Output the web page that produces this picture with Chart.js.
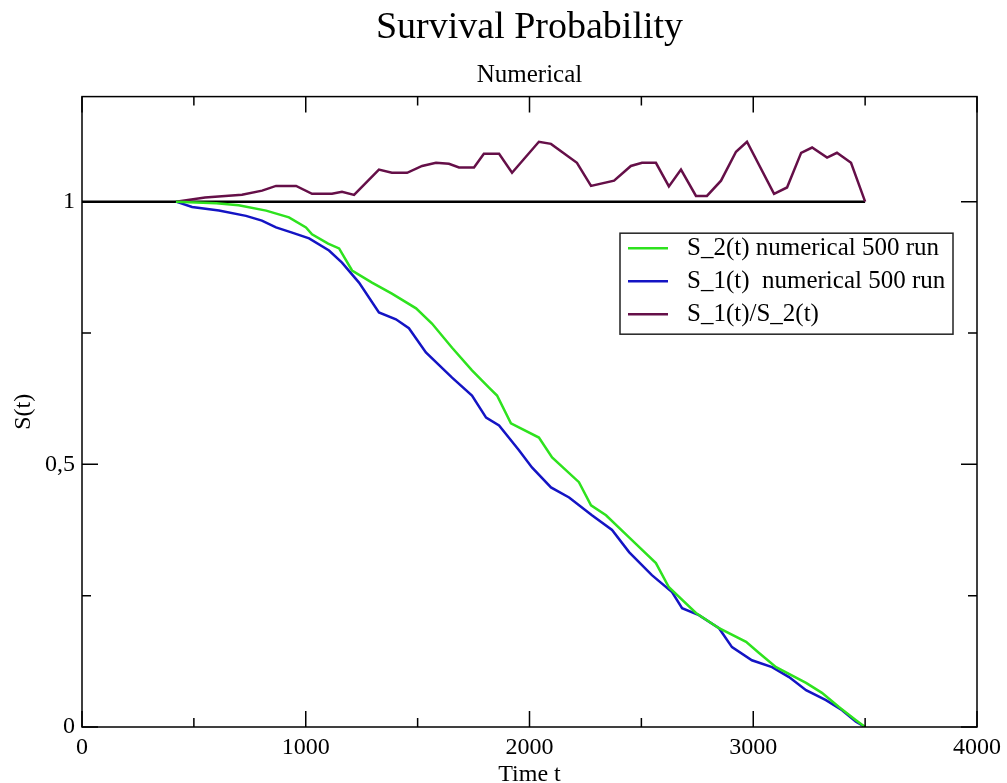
<!DOCTYPE html>
<html>
<head>
<meta charset="utf-8">
<script src="https://cdn.jsdelivr.net/npm/chart.js@4/dist/chart.umd.min.js"></script>
<style>
    html, body { margin: 0; padding: 0; background: #fff; }
    #wrap { width: 1007px; height: 783px; position: relative; }
</style>
</head>
<body>
<div id="wrap"><canvas id="chart"></canvas></div>
<script>
// values
const tS2 = [420, 600, 700, 823, 925, 1001, 1028, 1100, 1149, 1207, 1296, 1385, 1493, 1564, 1654, 1743, 1819, 1855, 1917, 2042, 2101, 2221, 2275, 2342, 2445, 2565, 2623, 2744, 2847, 2968, 3026, 3102, 3236, 3307, 3383, 3459, 3500];
const s2 = [1.0, 0.997, 0.993, 0.983, 0.97, 0.951, 0.938, 0.92, 0.911, 0.869, 0.846, 0.825, 0.797, 0.768, 0.722, 0.679, 0.646, 0.631, 0.578, 0.551, 0.513, 0.466, 0.422, 0.403, 0.361, 0.312, 0.266, 0.217, 0.188, 0.162, 0.141, 0.114, 0.084, 0.065, 0.038, 0.013, 0.0];

const tS1 = [420, 492, 612, 733, 804, 867, 939, 1015, 1104, 1162, 1238, 1327, 1403, 1461, 1537, 1654, 1743, 1806, 1864, 1953, 2011, 2096, 2177, 2279, 2369, 2445, 2547, 2637, 2682, 2757, 2847, 2905, 2994, 3084, 3160, 3236, 3325, 3397, 3459, 3500];
const s1 = [1.0, 0.99, 0.983, 0.973, 0.964, 0.951, 0.941, 0.93, 0.907, 0.884, 0.846, 0.789, 0.776, 0.759, 0.713, 0.665, 0.631, 0.589, 0.574, 0.527, 0.494, 0.456, 0.437, 0.403, 0.375, 0.333, 0.289, 0.257, 0.226, 0.213, 0.188, 0.152, 0.127, 0.114, 0.095, 0.070, 0.051, 0.032, 0.01, 0.0];

const tRatio = [420, 550, 715, 805, 867, 957, 1028, 1117, 1162, 1216, 1327, 1385, 1453, 1520, 1582, 1640, 1685, 1752, 1796, 1864, 1922, 2042, 2096, 2212, 2275, 2378, 2453, 2503, 2565, 2623, 2677, 2744, 2793, 2856, 2923, 2972, 3093, 3151, 3214, 3263, 3330, 3374, 3437, 3500];
const ratio = [1.0, 1.008, 1.013, 1.021, 1.03, 1.03, 1.015, 1.015, 1.019, 1.013, 1.061, 1.055, 1.055, 1.068, 1.074, 1.072, 1.065, 1.065, 1.091, 1.091, 1.055, 1.114, 1.11, 1.074, 1.03, 1.04, 1.068, 1.074, 1.074, 1.029, 1.061, 1.011, 1.011, 1.04, 1.095, 1.114, 1.015, 1.027, 1.093, 1.103, 1.084, 1.093, 1.074, 1.0];

const tRef = [0, 3500];
const ref = [1, 1];

const yMajor = [0, 0.5, 1];
const yMinor = [0.25, 0.75];
const xMajor = [0, 1000, 2000, 3000, 4000];
const xMinor = [500, 1500, 2500, 3500];

const serif = "'Liberation Serif', 'DejaVu Serif', serif";

function pts(xs, ys) {
    return xs.map((x, i) => ({ x: x, y: ys[i] }));
}

// center title + subtitle over the plot area instead of the canvas
const centerTitles = {
    id: 'centerTitles',
    afterLayout(chart) {
        const mid = (chart.chartArea.left + chart.chartArea.right) / 2;
        chart.boxes.forEach(b => {
            if (b.options && typeof b.options.text === 'string') {
                const dx = mid - (b.left + b.right) / 2;
                b.left += dx;
                b.right += dx;
            }
        });
    }
};

// frame, inward ticks and boxed legend
const framePlugin = {
    id: 'frame',
    afterDatasetsDraw(chart) {
        const { ctx, chartArea: a, scales } = chart;
        const xs = scales.x, ys = scales.y;
        ctx.save();
        ctx.strokeStyle = '#000';
        ctx.lineWidth = 1.5;
        ctx.strokeRect(a.left, a.top, a.right - a.left, a.bottom - a.top);

        ctx.beginPath();
        const tick = (v, len, isX) => {
            if (isX) {
                const p = xs.getPixelForValue(v);
                ctx.moveTo(p, a.bottom); ctx.lineTo(p, a.bottom - len);
                ctx.moveTo(p, a.top); ctx.lineTo(p, a.top + len);
            } else {
                const p = ys.getPixelForValue(v);
                ctx.moveTo(a.left, p); ctx.lineTo(a.left + len, p);
                ctx.moveTo(a.right, p); ctx.lineTo(a.right - len, p);
            }
        };
        xMajor.forEach(v => tick(v, 16, true));
        xMinor.forEach(v => tick(v, 9, true));
        yMajor.forEach(v => tick(v, 16, false));
        yMinor.forEach(v => tick(v, 9, false));
        ctx.stroke();

        // legend box
        const items = chart.data.datasets.filter(d => d.label);
        const bx = a.right - 357, by = ys.getPixelForValue(0.94), bw = 333, bh = 101;
        ctx.fillStyle = '#fff';
        ctx.fillRect(bx, by, bw, bh);
        ctx.lineWidth = 1.5;
        ctx.strokeStyle = '#222';
        ctx.strokeRect(bx, by, bw, bh);
        ctx.font = '25px ' + serif;
        ctx.textBaseline = 'middle';
        items.forEach((d, i) => {
            const y = by + 15 + i * 33;
            ctx.strokeStyle = d.borderColor;
            ctx.lineWidth = 2.5;
            ctx.beginPath();
            ctx.moveTo(bx + 8, y); ctx.lineTo(bx + 48, y);
            ctx.stroke();
            ctx.fillStyle = '#000';
            ctx.fillText(d.label, bx + 67, y);
        });
        ctx.restore();
    }
};

const ctx = document.getElementById('chart').getContext('2d');
new Chart(ctx, {
    type: 'line',
    data: {
        datasets: [
            { label: 'S_2(t) numerical 500 run', data: pts(tS2, s2), borderColor: '#2ee21e', borderWidth: 2.5 },
            { label: 'S_1(t)  numerical 500 run', data: pts(tS1, s1), borderColor: '#1414c4', borderWidth: 2.5 },
            { label: 'S_1(t)/S_2(t)', data: pts(tRatio, ratio), borderColor: '#650f48', borderWidth: 2.5 },
            { label: '', data: pts(tRef, ref), borderColor: '#000', borderWidth: 2.5 }
        ]
    },
    options: {
        responsive: true,
        maintainAspectRatio: false,
        animation: false,
        elements: { point: { radius: 0 }, line: { tension: 0 } },
        layout: { padding: { left: 0, right: 30, top: 0, bottom: 0 } },
        plugins: {
            legend: { display: false },
            tooltip: { enabled: false },
            title: {
                display: true,
                text: 'Survival Probability',
                color: '#000',
                font: { family: serif, size: 38, weight: 'normal' },
                padding: { top: 5, bottom: 10 }
            },
            subtitle: {
                display: true,
                text: 'Numerical',
                color: '#000',
                font: { family: serif, size: 25, weight: 'normal' },
                padding: { top: 0, bottom: 6 }
            }
        },
        scales: {
            x: {
                type: 'linear',
                min: 0,
                max: 4000,
                afterFit: s => { s.height = 56; },
                afterBuildTicks: s => { s.ticks = xMajor.map(v => ({ value: v })); },
                grid: { display: false, drawTicks: false },
                border: { display: false },
                ticks: { color: '#000', padding: 6, maxRotation: 0, font: { family: serif, size: 24 }, callback: v => String(v) },
                title: { display: true, text: 'Time t', color: '#000', padding: { top: 0, bottom: 0 }, font: { family: serif, size: 24, lineHeight: 0.7 } }
            },
            y: {
                type: 'linear',
                min: 0,
                max: 1.2,
                afterFit: s => { s.width = 82; },
                afterBuildTicks: s => { s.ticks = yMajor.map(v => ({ value: v })); },
                grid: { display: false, drawTicks: false },
                border: { display: false },
                ticks: {
                    color: '#000',
                    padding: 7,
                    font: { family: serif, size: 24 },
                    callback: v => String(v).replace('.', ',')
                },
                title: { display: true, text: 'S(t)', color: '#000', padding: { top: 12 }, font: { family: serif, size: 24, lineHeight: 1 } }
            }
        }
    },
    plugins: [centerTitles, framePlugin]
});
</script>
</body>
</html>
